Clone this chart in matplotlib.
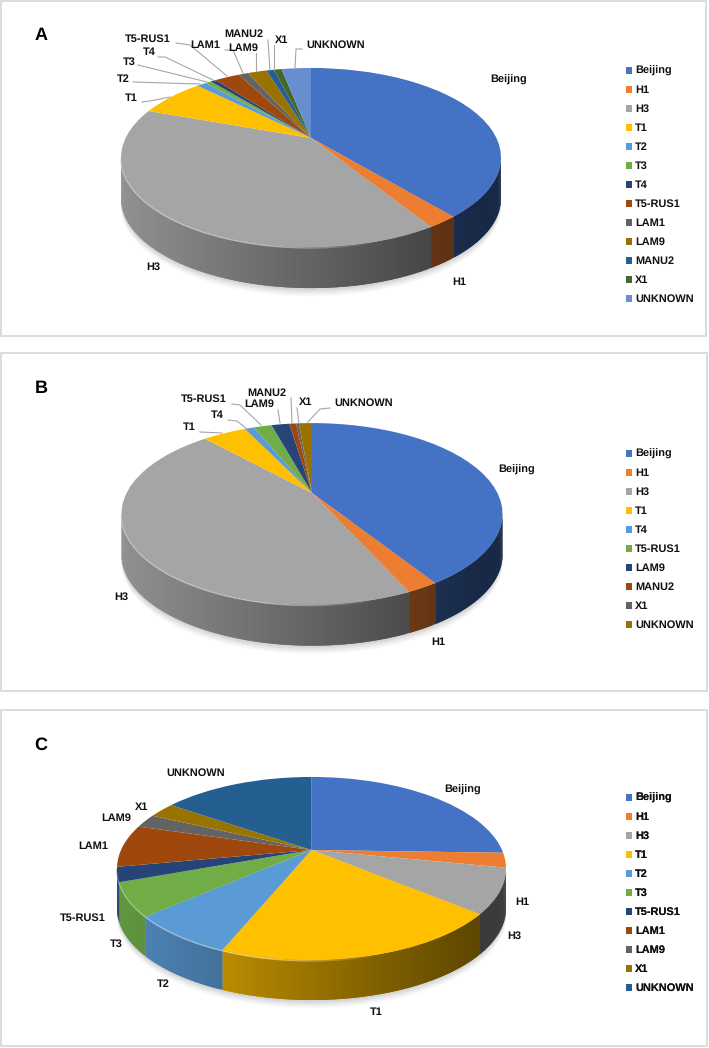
import numpy as np
import matplotlib
matplotlib.use('Agg')
import matplotlib.pyplot as plt
from matplotlib.collections import LineCollection
from matplotlib.patches import Patch, Rectangle
from matplotlib.transforms import Transform
from matplotlib.colors import to_rgb

plt.rcParams['font.family'] = ['Liberation Sans', 'DejaVu Sans']
plt.rcParams['text.hinting'] = 'no_hinting'
plt.rcParams['text.hinting_factor'] = 1

# Data (percent of each panel)
labels_a = ['Beijing', 'H1', 'H3', 'T1', 'T2', 'T3', 'T4', 'T5-RUS1', 'LAM1', 'LAM9', 'MANU2', 'X1', 'UNKNOWN']
values_a = [39.0, 2.2, 39.4, 7.0, 1.0, 0.6, 0.6, 2.6, 1.0, 2.0, 0.8, 0.8, 3.1]

labels_b = ['Beijing', 'H1', 'H3', 'T1', 'T4', 'T5-RUS1', 'LAM9', 'MANU2', 'X1', 'UNKNOWN']
values_b = [41.0, 2.2, 45.0, 4.6, 1.0, 1.9, 1.9, 0.7, 0.3, 1.4]

labels_c = ['Beijing', 'H1', 'H3', 'T1', 'T2', 'T3', 'T5-RUS1', 'LAM1', 'LAM9', 'X1', 'UNKNOWN']
values_c = [25.5, 2.6, 7.9, 20.2, 7.4, 5.85, 2.6, 7.5, 2.4, 2.7, 15.35]

# Office palette
palette = ['#4472C4', '#ED7D31', '#A5A5A5', '#FFC000', '#5B9BD5', '#70AD47', '#264478',
           '#9E480E', '#636363', '#997300', '#255E91', '#43682B', '#698ED0']


# Perspective of the tilted disc: unit circle -> pixels
class Tilt(Transform):
    input_dims = 2
    output_dims = 2
    is_affine = False

    def __init__(self, cx, cy, rx, ry, k):
        super().__init__()
        self.cx, self.cy, self.rx, self.ry, self.k = cx, cy, rx, ry, k

    def transform_non_affine(self, values):
        values = np.asarray(values, dtype=float)
        w = 1 + self.k * values[:, 1]
        return np.column_stack([self.cx + self.rx * values[:, 0] / w,
                                self.cy - self.ry * values[:, 1] / w])


def draw_pie(ax, labels, values, tilt, depth):
    colors = palette[:len(values)]
    values = np.asarray(values, dtype=float)
    edges = np.concatenate([[0], np.cumsum(values)]) / values.sum() * 2 * np.pi
    limit = np.arccos(-tilt.k)

    # soft shadow under the disc
    th = np.linspace(limit - 0.5, 2 * np.pi - limit + 0.5, 200)
    rim = tilt.transform(np.column_stack([np.sin(th), np.cos(th)]))
    for grow, alpha in zip([8, 6, 4, 2], [0.06, 0.08, 0.10, 0.12]):
        ax.fill(rim[:, 0], rim[:, 1] + depth + grow, color='#808080', alpha=alpha, lw=0, zorder=1)

    # side wall, shaded in small strips from left to right
    for i, col in enumerate(colors):
        a0 = max(edges[i], limit)
        a1 = min(edges[i + 1], 2 * np.pi - limit)
        if a1 <= a0:
            continue
        n = max(2, int((a1 - a0) / 0.012))
        th = np.linspace(a0, a1, n + 1)
        pts = tilt.transform(np.column_stack([np.sin(th), np.cos(th)]))
        xn = (pts[:, 0] - tilt.cx) / tilt.rx
        # strips run right to left here, each one overlaps the next to hide seams
        for j in range(n):
            k = min(j + 2, n)
            shade = np.clip(0.6 - 0.27 * xn[j], 0.36, 0.95)
            c = tuple(np.array(to_rgb(col)) * shade)
            ax.fill([pts[j, 0], pts[k, 0], pts[k, 0], pts[j, 0]],
                    [pts[j, 1], pts[k, 1], pts[k, 1] + depth, pts[j, 1] + depth],
                    color=c, lw=0, zorder=2)
        # light bevel along the rim, fading out towards the right
        light = 0.55 + 0.45 * np.array(to_rgb(col))
        fade = np.clip((0.35 - xn[:-1]) / 0.6, 0, 1) * 0.8
        segs = np.stack([pts[:-1] + [0, 0.8], pts[1:] + [0, 0.8]], axis=1)
        rgba = np.column_stack([np.tile(light, (n, 1)), fade])
        ax.add_collection(LineCollection(segs, colors=rgba, linewidths=1.1, zorder=2.5, capstyle='butt'),
                          autolim=False)

    # top of the pie
    ax.pie(values, colors=colors, startangle=90, counterclock=False,
           wedgeprops={'transform': tilt + ax.transData, 'linewidth': 0, 'zorder': 3})


def draw_texts(ax, names, places, lines):
    for name, (x, y) in zip(names, places):
        ax.text(x, y, name, fontsize=8.1, fontweight='bold', ha='center', va='center', color='#111111', zorder=6)
    for line in lines:
        xs, ys = zip(*line)
        ax.plot(xs, ys, color='#a6a6a6', lw=0.8, zorder=5)


def draw_legend(ax, labels, x, y):
    handles = [Patch(facecolor=palette[i], edgecolor='none') for i in range(len(labels))]
    leg = ax.legend(handles, labels, loc='upper left', bbox_to_anchor=(x, y), bbox_transform=ax.transData,
                    frameon=False, borderpad=0, borderaxespad=0, handlelength=0.6, handleheight=0.6,
                    handletextpad=0.25, labelspacing=0.83,
                    prop={'size': 7.6, 'weight': 'bold', 'family': ['Liberation Sans', 'DejaVu Sans']})
    for t in leg.get_texts():
        t.set_color('#111111')
    ax.add_artist(leg)


fig = plt.figure(figsize=(7.09, 10.48), dpi=100)
ax = fig.add_axes([0, 0, 1, 1])

tilt_a = Tilt(311, 138, 185.4, 85.3, 0.218)
tilt_b = Tilt(312, 493, 185.4, 86, 0.23)
tilt_c = Tilt(311.5, 850, 190.5, 87.8, 0.202)

draw_pie(ax, labels_a, values_a, tilt_a, 41)
draw_pie(ax, labels_b, values_b, tilt_b, 41)
draw_pie(ax, labels_c, values_c, tilt_c, 40)

draw_texts(ax,
           ['Beijing', 'H1', 'H3', 'T1', 'T2', 'T3', 'T4', 'T5-RUS1', 'LAM1', 'LAM9', 'MANU2', 'X1', 'UNKNOWN'],
           [(509, 80), (459, 282), (153, 267), (131, 98), (123, 79), (129, 62), (149, 52), (148, 39),
            (205, 45), (243, 48), (244, 34), (282, 40), (336, 45)],
           [[(176, 43), (190, 45), (227, 76)], [(225, 50), (233, 50), (243, 73)], [(256, 53), (256, 71)],
            [(268, 40), (270, 70)], [(274, 45), (274, 70)], [(302, 49), (296, 49), (295, 68)],
            [(158, 57), (165, 57), (215, 81)], [(138, 65), (207, 82)], [(133, 82), (200, 84)],
            [(142, 102), (150, 101), (170, 97)]])

draw_texts(ax,
           ['Beijing', 'H1', 'H3', 'T1', 'T4', 'T5-RUS1', 'LAM9', 'MANU2', 'X1', 'UNKNOWN'],
           [(517, 470), (438, 642), (121, 597), (189, 427), (217, 415), (204, 399), (259, 404), (267, 393),
            (306, 402), (364, 403)],
           [[(232, 404), (240, 405), (261, 425)], [(278, 410), (280, 423)], [(291, 398), (292, 423)],
            [(297, 408), (299, 423)], [(330, 408), (320, 409), (307, 423)],
            [(228, 420), (237, 421), (247, 429)], [(200, 432), (222, 433)]])

draw_texts(ax,
           ['Beijing', 'H1', 'H3', 'T1', 'T2', 'T3', 'T5-RUS1', 'LAM1', 'LAM9', 'X1', 'UNKNOWN'],
           [(463, 790), (522, 902), (514, 936), (376, 1012), (163, 984), (116, 944), (83, 918), (93, 846),
            (116, 818), (142, 807), (196, 773)],
           [])

# panel frames and letters
for (x0, y0, x1, y1), letter, ly in zip([(1, 1, 706, 336), (1, 353, 707, 691), (1, 710, 707, 1046)],
                                        ['A', 'B', 'C'], [35, 388, 745]):
    ax.add_patch(Rectangle((x0, y0), x1 - x0, y1 - y0, fill=False, edgecolor='#dcdcdc', lw=1.4, zorder=0))
    ax.text(41, ly, letter, fontsize=13, fontweight='bold', ha='center', va='center', color='black')

draw_legend(ax, labels_a, 626, 66)
draw_legend(ax, labels_b, 626, 449)
draw_legend(ax, labels_c, 626, 793)

ax.set_aspect('auto')
ax.set_xlim(0, 709)
ax.set_ylim(1048, 0)
ax.axis('off')

fig.savefig('out.png', dpi=100, facecolor='white')
plt.close(fig)
